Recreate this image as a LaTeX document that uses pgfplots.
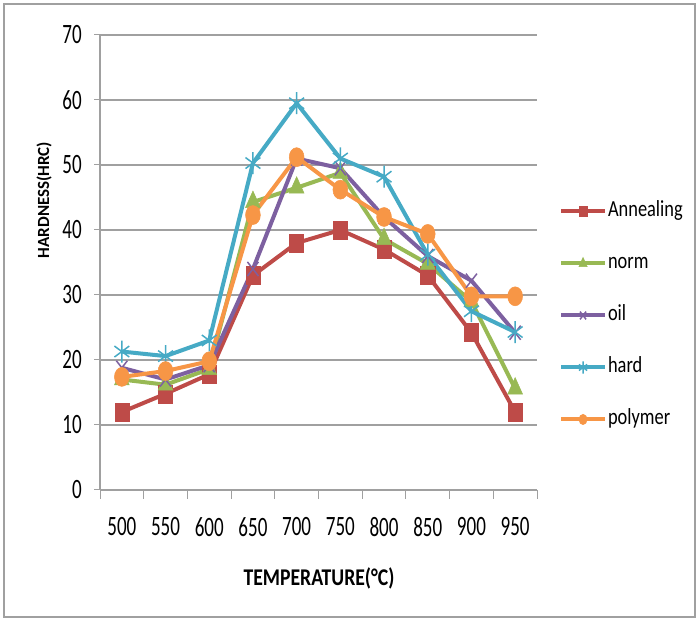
\documentclass[border=0pt]{standalone}
\usepackage{fontspec}
\usepackage{pgfplots}
\pgfplotsset{compat=1.18}
\setmainfont{Carlito}
\newfontfamily\tickf{Carlito}[FakeStretch=0.68]
\newfontfamily\legf{Carlito}[FakeStretch=0.8]
\newfontfamily\labf{Carlito}[FakeStretch=0.82]
\newfontfamily\ylabf{Carlito}
\definecolor{cAnn}{HTML}{BE4B48}
\definecolor{cNorm}{HTML}{98B954}
\definecolor{cOil}{HTML}{7D60A0}
\definecolor{cHard}{HTML}{46AAC5}
\definecolor{cPoly}{HTML}{F79646}
\definecolor{gridc}{HTML}{A0A0A0}
\begin{document}
\begin{tikzpicture}
\fill[white] (0pt,0pt) rectangle (699pt,621pt);
\draw[gridc, line width=1.2pt] (4pt,4pt) rectangle (695pt,617pt);
\begin{axis}[
  at={(100pt,131pt)}, anchor=south west,
  scale only axis, width=437pt, height=455pt,
  xmin=-0.5, xmax=9.5, ymin=0, ymax=70,
  axis lines*=left,
  axis line style={gridc, line width=1.2pt},
  xtick={0,...,9},
  xticklabels={500,550,600,650,700,750,800,850,900,950},
  major x tick style={draw=none},
  minor xtick={-0.5,0.5,...,9.5},
  minor x tick style={gridc, line width=1pt},
  minor tick length=9pt,
  ytick={0,10,...,70},
  major tick length=6pt,
  y tick style={gridc, line width=1pt},
  tick align=outside,
  ymajorgrids, major grid style={gridc, line width=1.6pt},
  /pgf/number format/assume math mode=true,
  tick label style={font=\fontsize{28}{30}\tickf\selectfont},
  xticklabel style={yshift=-16pt},
  yticklabel style={xshift=-7pt},
  line width=4pt,
  legend style={at={(1.039,0.644)}, anchor=north west, draw=none, fill=none,
    font=\fontsize{23}{25}\legf\selectfont,
    nodes={text height=16pt, text depth=5pt, inner ysep=0pt, inner xsep=1pt},
    row sep=31pt},
  legend cell align=left,
  legend image code/.code={\draw[mark repeat=2,mark phase=2,/tikz/every mark/.append style={scale=0.55}] plot coordinates {(0pt,0pt) (22pt,0pt) (44pt,0pt)};},
]
\addplot[cAnn, mark=square*, mark size=9pt, mark options={xscale=0.78, fill=cAnn, line width=0.5pt}] coordinates {
(0,12) (1,14.8) (2,17.8) (3,33) (4,38) (5,40) (6,37) (7,33) (8,24.2) (9,12)};
\addlegendentry{Annealing}
\addplot[cNorm, mark=triangle*, mark size=11pt, mark options={xscale=0.78, fill=cNorm, line width=0.5pt}] coordinates {
(0,17) (1,16.2) (2,18.6) (3,44.3) (4,46.5) (5,48.8) (6,38.6) (7,34.8) (8,29) (9,15.6)};
\addlegendentry{norm}
\addplot[cOil, mark=x, mark size=10pt, mark options={xscale=0.78, line width=1.5pt}] coordinates {
(0,18.8) (1,17) (2,19.2) (3,34) (4,51) (5,49.5) (6,42) (7,36) (8,32.2) (9,24.2)};
\addlegendentry{oil}
\addplot[cHard, mark=asterisk, mark size=11pt, mark options={xscale=0.78, line width=1.5pt}] coordinates {
(0,21.3) (1,20.6) (2,23) (3,50.3) (4,59.5) (5,51) (6,48.2) (7,36.2) (8,27.5) (9,24.3)};
\addlegendentry{hard}
\addplot[cPoly, mark=*, mark size=9.5pt, mark options={xscale=0.78, fill=cPoly, line width=0.5pt}] coordinates {
(0,17.4) (1,18.3) (2,19.8) (3,42.3) (4,51.2) (5,46.2) (6,42) (7,39.4) (8,29.8) (9,29.8)};
\addlegendentry{polymer}
\end{axis}
\node[rotate=90, font=\fontsize{17}{19}\ylabf\bfseries\selectfont] at (44pt,421pt) {HARDNESS(HRC)};
\node[font=\fontsize{24}{26}\labf\bfseries\selectfont] at (319pt,43pt) {TEMPERATURE(°C)};
\end{tikzpicture}
\end{document}
